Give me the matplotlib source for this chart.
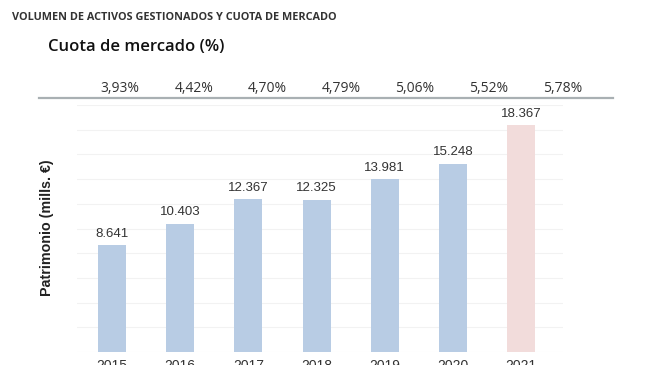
import matplotlib.pyplot as plt

years = ["2015", "2016", "2017", "2018", "2019", "2020", "2021"]
patrimonio = [8641, 10403, 12367, 12325, 13981, 15248, 18367]
cuota = [3.93, 4.42, 4.70, 4.79, 5.06, 5.52, 5.78]
bar_colors = ["#b8cce4"] * 6 + ["#f2dcdb"]

W, H = 650, 365
fig = plt.figure(figsize=(6.5, 3.65), dpi=100)

# header texts
fig.text(12 / W, 1 - 17 / H, "VOLUMEN DE ACTIVOS GESTIONADOS Y CUOTA DE MERCADO",
         fontsize=7.8, fontweight="bold", family="Open Sans", color="#333333",
         va="center", ha="left")
fig.text(48 / W, 1 - 47 / H, "Cuota de mercado (%)", fontsize=12,
         fontweight="semibold", family="Open Sans", color="#111111",
         va="center", ha="left")

# market share row
ax_top = fig.add_axes([39 / W, 1 - 98 / H, (613 - 39) / W, 30 / H])
ax_top.set_xlim((39 - 120) / 73.7, (613 - 120) / 73.7)
ax_top.set_ylim(0, 1)
for s in ["top", "left", "right"]:
    ax_top.spines[s].set_visible(False)
ax_top.spines["bottom"].set_color("#a9b0b3")
ax_top.spines["bottom"].set_linewidth(1.6)
ax_top.set_xticks([])
ax_top.set_yticks([])
ax_top.patch.set_alpha(0)
for i, c in enumerate(cuota):
    ax_top.text(i, 10 / 30, f"{c:.2f}%".replace(".", ","), ha="center", va="center",
                fontsize=10, family="Open Sans", color="#333333")

# bars
ax = fig.add_axes([77 / W, 13 / H, (563 - 77) / W, 247 / H])
x = list(range(len(years)))
ax.bar(x, patrimonio, width=0.41, color=bar_colors, zorder=2)
ax.set_xlim((77 - 112) / 68.2, (563 - 112) / 68.2)
ax.set_ylim(0, 20000)
ax.set_yticks(range(0, 20001, 2000))
ax.set_yticklabels([])
ax.tick_params(length=0)
ax.grid(axis="y", color="#f2f2f2", linewidth=0.8, zorder=0)
for s in ax.spines.values():
    s.set_visible(False)
ax.set_xticks([])
for i, v in enumerate(patrimonio):
    ax.annotate(f"{v:,}".replace(",", "."), (i, v), xytext=(0, 4),
                textcoords="offset points", ha="center", va="bottom",
                fontsize=9.5, family="Liberation Sans", color="#333333")
    # year labels sit at the lower edge, cut off like in the source image
    ax.annotate(years[i], (i, 0), xytext=(0, -5), textcoords="offset points",
                ha="center", va="top", fontsize=10, family="Liberation Sans",
                color="#333333", annotation_clip=False)

fig.text(47 / W, 1 - 228 / H, "Patrimonio (mills. €)", rotation=90,
         fontsize=10.3, fontweight="bold", family="Liberation Sans",
         color="#222222", ha="center", va="center")

fig.savefig("out.png", dpi=100)
